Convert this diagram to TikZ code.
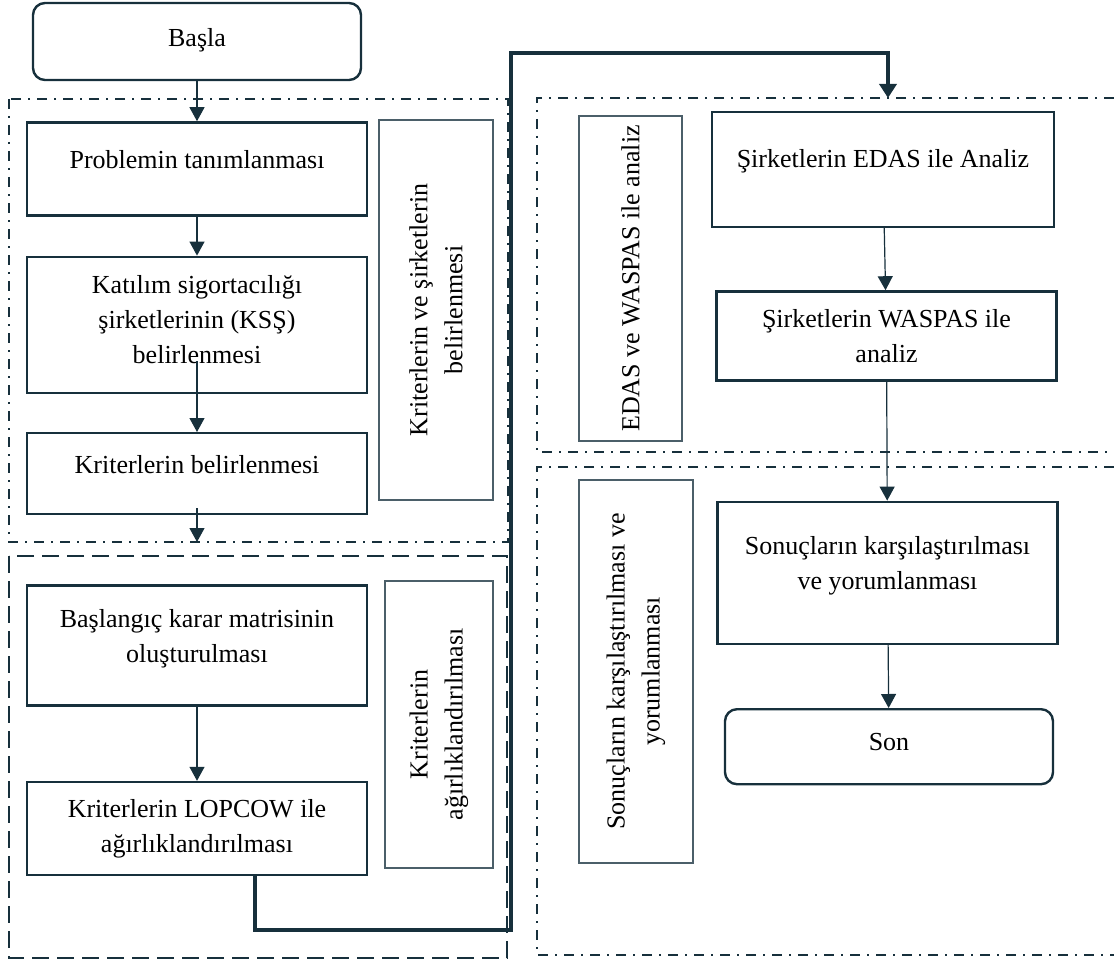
\documentclass[tikz,border=0pt]{standalone}
\usepackage{fontspec}
\setmainfont{Liberation Serif}
\usetikzlibrary{arrows.meta,positioning}
\definecolor{ink}{HTML}{17303C}
\definecolor{inkl}{HTML}{4B5F69}
\newcommand{\pushup}[1]{\rule[-#1]{0pt}{#1}}

\begin{document}
\begin{tikzpicture}[x=0.5pt,y=-0.5pt,
        font=\fontsize{13pt}{17.5pt}\selectfont,
        stepbox/.style={draw=ink,line width=1.2pt,minimum width=170pt,align=center,inner sep=0pt},
        startend/.style={stepbox,rounded corners=6pt,minimum width=164pt},
        sidebox/.style={draw=inkl,line width=0.6pt,rotate=90,align=center,inner sep=0pt},
        arr/.style={draw=ink,line width=0.6pt,-{Triangle[length=7pt,width=7.5pt]}},
        bigarr/.style={draw=ink,line width=2.2pt,-{Triangle[length=7pt,width=8.5pt]}},
        grpdd/.style={draw=ink,line width=1.1pt,dash pattern=on 5pt off 3.5pt on 1pt off 3.5pt},
        grpd/.style={draw=ink,line width=1.1pt,dash pattern=on 8.5pt off 4pt}]
        \useasboundingbox (0,0) rectangle (1114,963);
        \draw[grpdd] (9,99) rectangle (508,542);
        \draw[grpd] (9,556) rectangle (507,958);
        \draw[grpdd] (1114,98) -- (537,98) -- (537,452) -- (1114,452);
        \draw[grpdd] (1114,467) -- (537,467) -- (537,955) -- (1114,955);
        \node[startend,minimum height=38.5pt] (basla) at (197,41.5) {Başla\pushup{4pt}};
        \node[stepbox,minimum height=46.5pt,below=20pt of basla] (prob) {Problemin tanımlanması\pushup{9.5pt}};
        \node[stepbox,minimum height=68pt,below=19.5pt of prob] (kss) {Katılım sigortacılığı\\şirketlerinin (KSŞ)\\belirlenmesi\pushup{5pt}};
        \node[stepbox,minimum height=40.5pt,below=19pt of kss] (krit) {Kriterlerin belirlenmesi\pushup{9pt}};
        \node[stepbox,minimum height=60pt,below=34.5pt of krit] (blang) {Başlangıç karar matrisinin\\oluşturulması\pushup{10pt}};
        \node[stepbox,minimum height=46.5pt,below=37pt of blang] (lop) {Kriterlerin LOPCOW ile\\ağırlıklandırılması};
        \node[stepbox,minimum width=171pt,minimum height=57.5pt] (edas) at (883,169.5) {Şirketlerin EDAS ile Analiz\pushup{11pt}};
        \node[stepbox,minimum height=44.5pt,below=31pt of edas,xshift=1.75pt] (waspas) {Şirketlerin WASPAS ile\\analiz};
        \node[stepbox,minimum height=71pt,below=59.5pt of waspas,xshift=0.5pt] (sonuc) {Sonuçların karşılaştırılması\\ve yorumlanması\pushup{10pt}};
        \node[startend,minimum height=37.5pt,below=31.5pt of sonuc,xshift=0.75pt] (son) {Son\pushup{5pt}};
        \node[sidebox,minimum width=190pt,minimum height=57pt] (vb1) at (436,310) {Kriterlerin ve şirketlerin\\belirlenmesi};
        \node[sidebox,minimum width=143.5pt,minimum height=54pt] (vb2) at (439,724.5) {Kriterlerin\\ağırlıklandırılması};
        \node[sidebox,minimum width=162.5pt,minimum height=51.5pt] (vb3) at (630.5,278.5) {EDAS ve WASPAS ile analiz};
        \node[sidebox,minimum width=191.5pt,minimum height=57pt] (vb4) at (636,671.5) {Sonuçların karşılaştırılması ve\\yorumlanması};
        \coordinate (g1s) at (197,542);
        \coordinate (g3n) at (888,98);
        \draw[arr] (basla) -- (prob);
        \draw[arr] (prob) -- (kss);
        \draw[arr] ([yshift=16.5pt]kss.south) -- (krit);
        \draw[arr] ([yshift=3.5pt]krit.south) -- (g1s);
        \draw[arr] (blang) -- (lop);
        \draw[arr] (edas) -- (waspas);
        \draw[arr] (waspas) -- (sonuc);
        \draw[arr] (sonuc) -- (son);
        \draw[bigarr] ([xshift=29pt]lop.south) -- ++(0,54) -| (511,53) -| (g3n);
\end{tikzpicture}
\end{document}
